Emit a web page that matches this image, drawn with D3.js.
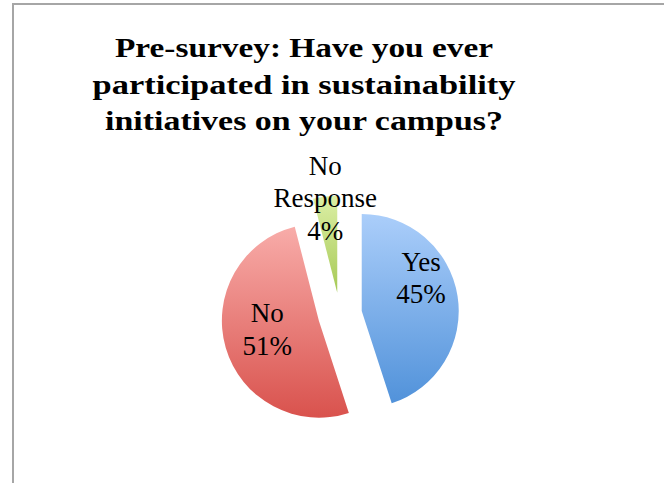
<!DOCTYPE html>
<html>
<head>
<meta charset="utf-8">
<script src="https://cdn.jsdelivr.net/npm/d3@7"></script>
<style>
  html, body { margin: 0; padding: 0; background: #fff; }
  svg { display: block; }
</style>
</head>
<body>
<div id="chart"></div>
<script>
// data
const categories = ["Yes", "No", "No Response"];
const values = [45, 51, 4];
const percentLabels = ["45%", "51%", "4%"];
const titleLines = [
    "Pre-survey: Have you ever",
    "participated in sustainability",
    "initiatives on your campus?"
];

const width = 664, height = 483;

const theme = {
    border: "#a6a6a6",
    text: "#000",
    gradients: [
        ["#abcefa", "#5192da"],
        ["#f8aca9", "#d9524d"],
        ["#dcefa6", "#a6c955"]
    ],
    titleFont: "'Liberation Serif', serif",
    labelFont: "'Liberation Serif', serif"
};

// where excel's "best fit" put the labels (fraction of radius, angle shift in degrees)
const labelPlace = [
    { f: 0.70, shift: -20 },
    { f: 0.54, shift: 6.5 },
    { f: 0.98, shift: 0 }
];
const titleWidths = [378, 423, 398];

const svg = d3.select("#chart").append("svg")
    .attr("width", width)
    .attr("height", height);

const defs = svg.append("defs");

// chart area frame (cropped on right and bottom)
svg.append("rect")
    .attr("x", 13)
    .attr("y", 4)
    .attr("width", 800)
    .attr("height", 700)
    .style("fill", "#fff")
    .style("stroke", theme.border)
    .style("stroke-width", 2);

// title
const titleG = svg.append("g");
titleG.selectAll("text")
    .data(titleLines)
    .join("text")
    .attr("x", 304)
    .attr("y", (d, i) => 57 + i * 36.5)
    .attr("text-anchor", "middle")
    .attr("textLength", (d, i) => titleWidths[i])
    .attr("lengthAdjust", "spacingAndGlyphs")
    .style("font-family", theme.titleFont)
    .style("font-weight", "bold")
    .style("font-size", "27px")
    .style("fill", theme.text)
    .text(d => d);

// pie
const cx = 340, cy = 314.5, radius = 97, explode = 22;

const pie = d3.pie().sort(null).value(d => d);
const arcs = pie(values);
const arc = d3.arc().innerRadius(0).outerRadius(radius);

categories.forEach((c, i) => {
    const g = defs.append("linearGradient")
        .attr("id", "grad" + i)
        .attr("x1", 0).attr("y1", 0)
        .attr("x2", 0).attr("y2", 1);
    g.append("stop").attr("offset", "0%").attr("stop-color", theme.gradients[i][0]);
    g.append("stop").attr("offset", "100%").attr("stop-color", theme.gradients[i][1]);
});

const mid = d => (d.startAngle + d.endAngle) / 2;

const pieG = svg.append("g")
    .attr("transform", `translate(${cx},${cy})`);

const slices = pieG.selectAll("g.slice")
    .data(arcs)
    .join("g")
    .attr("class", "slice")
    .attr("transform", d => {
        const a = mid(d);
        return `translate(${Math.sin(a) * explode},${-Math.cos(a) * explode})`;
    });

slices.append("path")
    .attr("d", arc)
    .style("fill", (d, i) => `url(#grad${i})`);

// labels
const pitch = 32.5, capH = 18;
slices.each(function(d, i) {
    const p = labelPlace[i];
    const a = mid(d) + p.shift * Math.PI / 180;
    const lx = Math.sin(a) * radius * p.f;
    const ly = -Math.cos(a) * radius * p.f;
    const lines = categories[i].split(" ").concat([percentLabels[i]]);
    const b1 = ly - ((lines.length - 1) * pitch - capH) / 2;
    d3.select(this).selectAll("text")
        .data(lines)
        .join("text")
        .attr("x", lx)
        .attr("y", (t, j) => b1 + j * pitch)
        .attr("text-anchor", "middle")
        .style("font-family", theme.labelFont)
        .style("font-size", "27px")
        .style("fill", theme.text)
        .text(t => t);
});
</script>
</body>
</html>
